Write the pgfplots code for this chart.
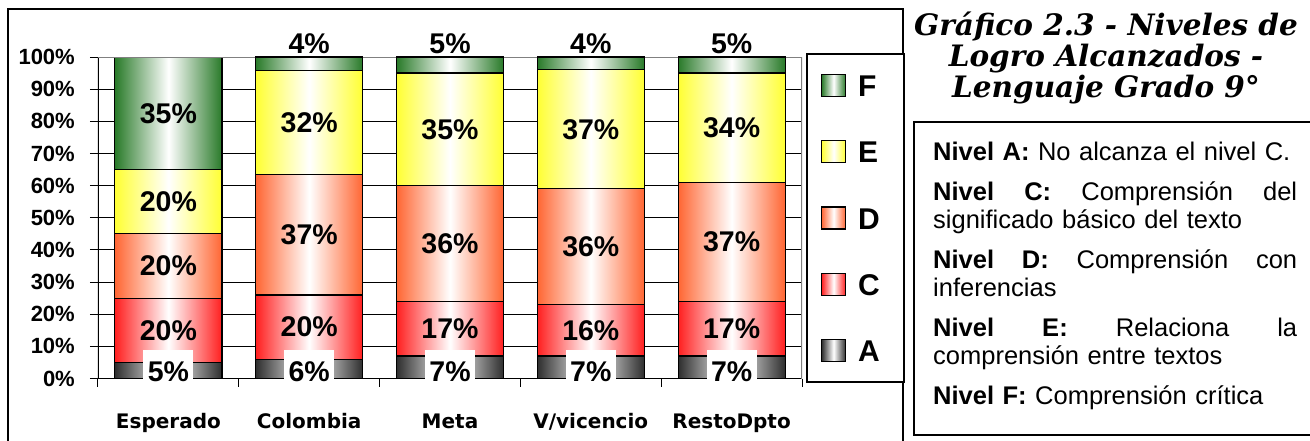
\documentclass[border=0pt]{standalone}
\usepackage{fontspec}
\setmainfont{Liberation Sans}
\newfontfamily\verd{DejaVu Sans}
\newfontfamily\ttl{DejaVu Serif}
\usepackage{pgfplots}
\pgfplotsset{compat=1.18}
\definecolor{cF}{HTML}{297A29}
\definecolor{cE}{HTML}{FFFF33}
\definecolor{cD}{HTML}{FF6633}
\definecolor{cC}{HTML}{FF1F1F}
\definecolor{cA}{HTML}{2E2E2E}
\newcommand\datafont{\fontsize{28.5pt}{30pt}\selectfont\bfseries}
\newcommand\tickfont{\fontsize{22pt}{24pt}\selectfont\bfseries}
\newcommand\catfont{\verd\bfseries\fontsize{20pt}{22pt}\selectfont}
\newcommand\legfont{\fontsize{30pt}{32pt}\selectfont\bfseries}
\newcommand\fullline[1]{\leavevmode\hbox to 364pt{#1}}
\pgfplotsset{
  base/.style={
    at={(98pt,61.5pt)}, anchor=south west, scale only axis,
    width=704pt, height=321.5pt,
    xmin=-0.5, xmax=4.5, ymin=0, ymax=100},
  bars/.style={base, ybar stacked, bar width=107pt},
  sA/.style={draw=black, line width=1.2pt, left color=cA, right color=cA, middle color=white},
  sC/.style={draw=black, line width=1.2pt, left color=cC, right color=cC, middle color=white},
  sD/.style={draw=black, line width=1.2pt, left color=cD, right color=cD, middle color=white},
  sE/.style={draw=black, line width=1.2pt, left color=cE, right color=cE, middle color=white},
  sF/.style={draw=black, line width=1.2pt, left color=cF, right color=cF, middle color=white},
}
\begin{document}
\begin{tikzpicture}
\path[use as bounding box] (0,0) rectangle (1310pt,440pt);
\draw[black, line width=1.1pt] (8pt,431pt) rectangle (903pt,-10pt);
% category 1 + frame, ticks, grid, legend
\begin{axis}[bars,
  axis line style={draw=none},
  tick align=outside, xtick pos=bottom, ytick pos=left,
  major tick length=8pt,
  tick style={black, line width=1pt},
  ytick={0,10,...,100},
  yticklabels={0\%,10\%,20\%,30\%,40\%,50\%,60\%,70\%,80\%,90\%,100\%},
  yticklabel style={font=\tickfont, anchor=east, inner sep=0pt, xshift=-15pt},
  ymajorgrids, grid style={black, line width=1pt},
  xtick={-0.5,0.5,1.5,2.5,3.5,4.5}, xticklabels={},
  extra x ticks={0,1,2,3,4},
  extra x tick labels={Esperado,Colombia,Meta,V/vicencio,RestoDpto},
  extra x tick style={major tick length=0pt},
  xticklabel style={font=\catfont, anchor=north, inner sep=0pt, yshift=-35pt},
  reverse legend,
  legend image code/.code={\draw[#1] (0pt,-11pt) rectangle (24pt,11pt);},
  legend style={at={(axis description cs:1.0057,1.0124)}, anchor=north west,
    draw=black, line width=2pt, inner xsep=14pt, inner ysep=20pt,
    row sep=43pt, column sep=12pt, font=\legfont,
    nodes={inner sep=0pt, text height=22pt, text depth=0pt, text width=32pt}},
  legend cell align=left,
]
\draw[gray, line width=1.2pt] (rel axis cs:0,1) -- (rel axis cs:1,1) -- (rel axis cs:1,0);
\draw[black, line width=1.3pt] (rel axis cs:0,1) -- (rel axis cs:0,0) -- (rel axis cs:1,0);
\addplot[sA] coordinates {(0,5)};  \addlegendentry{A}
\addplot[sC] coordinates {(0,20)}; \addlegendentry{C}
\addplot[sD] coordinates {(0,20)}; \addlegendentry{D}
\addplot[sE] coordinates {(0,20)}; \addlegendentry{E}
\addplot[sF] coordinates {(0,35)}; \addlegendentry{F}
\end{axis}
% Colombia
\begin{axis}[bars, hide axis]
\addplot[sA] coordinates {(1,6)};
\addplot[sC] coordinates {(1,20)};
\addplot[sD] coordinates {(1,37.5)};
\addplot[sE] coordinates {(1,32.4)};
\addplot[sF] coordinates {(1,4.1)};
\end{axis}
% Meta
\begin{axis}[bars, hide axis]
\addplot[sA] coordinates {(2,7)};
\addplot[sC] coordinates {(2,17)};
\addplot[sD] coordinates {(2,36)};
\addplot[sE] coordinates {(2,35)};
\addplot[sF] coordinates {(2,5)};
\end{axis}
% V/vicencio
\begin{axis}[bars, hide axis]
\addplot[sA] coordinates {(3,7)};
\addplot[sC] coordinates {(3,16)};
\addplot[sD] coordinates {(3,36)};
\addplot[sE] coordinates {(3,37)};
\addplot[sF] coordinates {(3,4)};
\end{axis}
% RestoDpto
\begin{axis}[bars, hide axis]
\addplot[sA] coordinates {(4,7)};
\addplot[sC] coordinates {(4,17)};
\addplot[sD] coordinates {(4,37)};
\addplot[sE] coordinates {(4,34)};
\addplot[sF] coordinates {(4,5)};
\end{axis}
% value labels
\begin{axis}[base, hide axis, clip=false,
  nodes near coords={\pgfplotspointmeta\%}, point meta=explicit symbolic,
  every node near coord/.append style={anchor=center, font=\datafont, inner sep=0pt}]
\addplot[draw=none, mark=none] coordinates {
  (0,15)[20] (0,35)[20] (0,55)[20] (0,82.5)[35]
  (1,16)[20] (1,44.75)[37] (1,79.7)[32]
  (2,15.5)[17] (2,42)[36] (2,77.5)[35]
  (3,15)[16] (3,41)[36] (3,77.5)[37]
  (4,15.5)[17] (4,42.5)[37] (4,78)[34]
  (1,104)[4] (2,104)[5] (3,104)[4] (4,104)[5]};
\addplot[draw=none, mark=none,
  every node near coord/.append style={fill=white, inner xsep=4.5pt, inner ysep=3pt,
    text height=28pt, text depth=0pt}]
  coordinates {(0,3.5)[5] (1,3.5)[6] (2,3.5)[7] (3,3.5)[7] (4,3.5)[7]};
\end{axis}
\node[align=center, font=\ttl\bfseries\itshape\fontsize{29.5pt}{31pt}\selectfont]
  at (1106pt,382pt) {Gráfico 2.3 - Niveles de\\Logro Alcanzados -\\Lenguaje Grado 9°};
\draw[black, line width=1.4pt] (914pt,318pt) rectangle (1320pt,5pt);
\node[anchor=north west, inner sep=0pt, text width=385pt, align=left,
  font=\fontsize{25.5pt}{28pt}\selectfont] at (933pt,298pt) {%
\textbf{Nivel A:} No alcanza el nivel C.\\[12pt]
\fullline{\textbf{Nivel}\hfill\textbf{C:}\hfill Comprensión\hfill del}\\
significado básico del texto\\[12pt]
\fullline{\textbf{Nivel}\hfill\textbf{D:}\hfill Comprensión\hfill con}\\
inferencias\\[12pt]
\fullline{\textbf{Nivel}\hfill\textbf{E:}\hfill Relaciona\hfill la}\\
comprensión entre textos\\[12pt]
\textbf{Nivel F:} Comprensión crítica};
\end{tikzpicture}
\end{document}
